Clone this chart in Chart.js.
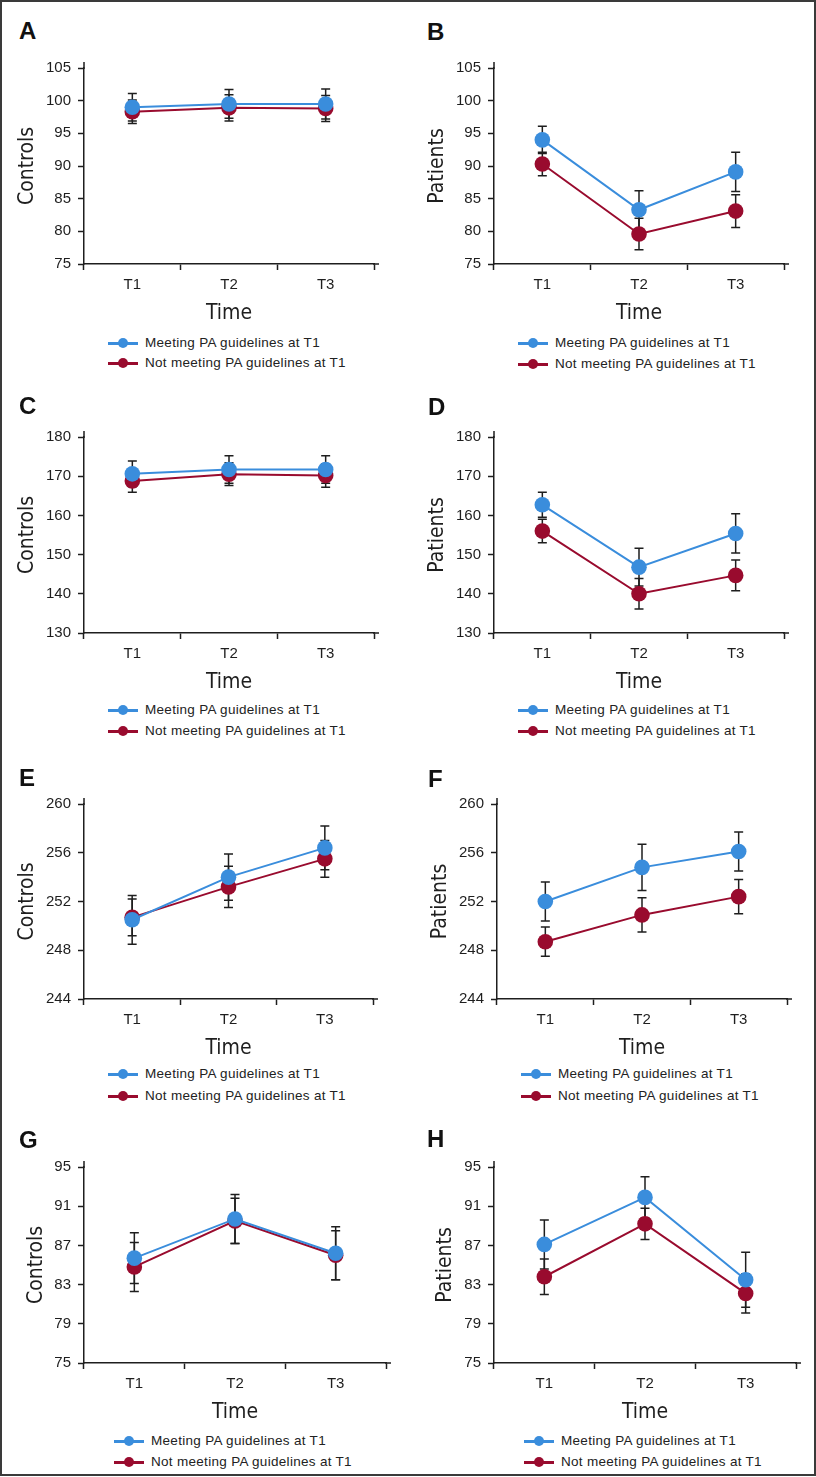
<!DOCTYPE html>
<html>
<head>
<meta charset="utf-8">
<script src="https://cdn.jsdelivr.net/npm/chart.js@4.4.1/dist/chart.umd.min.js"></script>
<style>
  html, body { margin: 0; padding: 0; background: #fff; }
  #fig { position: relative; width: 816px; height: 1477px; overflow: hidden; font-family: 'Liberation Sans', Arial, sans-serif; }
  #frame { position: absolute; left: 0; top: 0; width: 816px; height: 1476px; box-sizing: border-box; border: 2px solid #3a3a3a; pointer-events: none; }
  canvas { position: absolute; }
  .letter { position: absolute; font-weight: bold; font-size: 24px; line-height: 24px; color: #111; }
  .legend-row { position: absolute; height: 20px; line-height: 20px; white-space: nowrap; font-size: 13.5px; letter-spacing: 0.3px; color: #222; }
  .legend-row .line { position: absolute; left: 0; top: 9px; width: 30px; height: 2.5px; }
  .legend-row .dot { position: absolute; left: 10px; top: 5px; width: 10px; height: 10px; border-radius: 50%; }
  .legend-row .text { position: absolute; left: 37px; top: 0; }
</style>
</head>
<body>
<div id="fig"><div id="frame"></div></div>
<script>
// categories and series names
const timeLabels = ['T1', 'T2', 'T3'];
const seriesNames = ['Meeting PA guidelines at T1', 'Not meeting PA guidelines at T1'];
const panelLetters = ['A', 'B', 'C', 'D', 'E', 'F', 'G', 'H'];
const yTitles = ['Controls', 'Patients', 'Controls', 'Patients', 'Controls', 'Patients', 'Controls', 'Patients'];

// y axis ticks per panel
const yMin = [75, 75, 130, 130, 244, 244, 75, 75];
const yMax = [105, 105, 180, 180, 260, 260, 95, 95];
const yStep = [5, 5, 10, 10, 4, 4, 4, 4];

// means (meeting / not meeting) and error bar half-lengths, per panel
const meetA = [99.0, 99.5, 99.5];    const meetErrA = [2.1, 2.2, 2.3];
const notA = [98.3, 98.9, 98.8];     const notErrA = [1.8, 2.0, 2.0];
const meetB = [94.0, 83.3, 89.1];    const meetErrB = [2.1, 2.9, 3.0];
const notB = [90.3, 79.6, 83.1];     const notErrB = [1.8, 2.4, 2.5];
const meetC = [170.6, 171.7, 171.7]; const meetErrC = [3.3, 3.5, 3.5];
const notC = [168.8, 170.5, 170.2];  const notErrC = [2.9, 2.9, 3.0];
const meetD = [162.7, 146.8, 155.4]; const meetErrD = [3.2, 4.8, 5.0];
const notD = [156.0, 140.0, 144.7];  const notErrD = [3.0, 3.9, 3.9];
const meetE = [250.5, 254.0, 256.4]; const meetErrE = [2.0, 1.9, 1.8];
const notE = [250.7, 253.2, 255.5];  const notErrE = [1.5, 1.7, 1.5];
const meetF = [252.0, 254.8, 256.1]; const meetErrF = [1.6, 1.9, 1.6];
const notF = [248.7, 250.9, 252.4];  const notErrF = [1.2, 1.4, 1.4];
const meetG = [85.7, 89.7, 86.2];    const meetErrG = [2.6, 2.5, 2.7];
const notG = [84.8, 89.5, 86.0];     const notErrG = [2.5, 2.3, 2.5];
const meetH = [87.1, 91.9, 83.5];    const meetErrH = [2.5, 2.1, 2.8];
const notH = [83.8, 89.2, 82.1];     const notErrH = [1.8, 1.6, 2.0];

const meetValues = [meetA, meetB, meetC, meetD, meetE, meetF, meetG, meetH];
const meetErrors = [meetErrA, meetErrB, meetErrC, meetErrD, meetErrE, meetErrF, meetErrG, meetErrH];
const notValues = [notA, notB, notC, notD, notE, notF, notG, notH];
const notErrors = [notErrA, notErrB, notErrC, notErrD, notErrE, notErrF, notErrG, notErrH];

// page layout (pixels) for each panel
const layout = [
  { col: 0, plotL: 84,  plotR: 374, yTop: 68,   yBot: 264,  titleX: 26, letter: [19, 23],   legend: [108, 343, 363] },
  { col: 1, plotL: 494, plotR: 784, yTop: 68,   yBot: 264,  titleX: 28, letter: [427, 24],  legend: [518, 343, 364] },
  { col: 0, plotL: 84,  plotR: 374, yTop: 437,  yBot: 633,  titleX: 26, letter: [19, 398],  legend: [108, 710, 731] },
  { col: 1, plotL: 494, plotR: 784, yTop: 437,  yBot: 633,  titleX: 28, letter: [428, 399], legend: [518, 710, 731] },
  { col: 0, plotL: 84,  plotR: 373, yTop: 804,  yBot: 999,  titleX: 26, letter: [19, 770],  legend: [108, 1074, 1096] },
  { col: 1, plotL: 497, plotR: 787, yTop: 804,  yBot: 999,  titleX: 31, letter: [428, 771], legend: [521, 1074, 1096] },
  { col: 0, plotL: 84,  plotR: 386, yTop: 1167, yBot: 1363, titleX: 35, letter: [19, 1132], legend: [114, 1441, 1462] },
  { col: 1, plotL: 494, plotR: 796, yTop: 1167, yBot: 1363, titleX: 36, letter: [427, 1131], legend: [524, 1441, 1462] }
];

const BLUE = '#3a8ddc';
const RED = '#990b2e';
const INK = '#1e1e1e';
const TOP_PAD = 20;
const X_AXIS_H = 62;
const TITLE_SIZE = 21;
const TITLE_FONT = "'Liberation Sans Narrow', 'DejaVu Sans Condensed', 'Liberation Sans', sans-serif";

Chart.defaults.font.family = "'Liberation Sans', Arial, sans-serif";
Chart.defaults.color = INK;

// error bars drawn under the points
const errorBarPlugin = {
  id: 'errorBars',
  beforeDatasetsDraw(chart) {
    const ctx = chart.ctx;
    const yScale = chart.scales.y;
    ctx.save();
    ctx.strokeStyle = INK;
    ctx.lineWidth = 1.5;
    chart.data.datasets.forEach((ds, i) => {
      const meta = chart.getDatasetMeta(i);
      meta.data.forEach((pt, j) => {
        const v = ds.data[j], e = ds.errors[j];
        const top = yScale.getPixelForValue(v + e);
        const bot = yScale.getPixelForValue(v - e);
        ctx.beginPath();
        ctx.moveTo(pt.x, top); ctx.lineTo(pt.x, bot);
        ctx.moveTo(pt.x - 4.5, top); ctx.lineTo(pt.x + 4.5, top);
        ctx.moveTo(pt.x - 4.5, bot); ctx.lineTo(pt.x + 4.5, bot);
        ctx.stroke();
      });
    });
    ctx.restore();
  }
};

// axis lines run a little past the last tick
const axisExtendPlugin = {
  id: 'axisExtend',
  afterDraw(chart) {
    const { ctx, chartArea } = chart;
    ctx.save();
    ctx.strokeStyle = INK;
    ctx.lineWidth = 1.5;
    ctx.beginPath();
    ctx.moveTo(chartArea.left, chartArea.top + 1);
    ctx.lineTo(chartArea.left, chartArea.top - 6);
    ctx.moveTo(chartArea.right - 1, chartArea.bottom);
    ctx.lineTo(chartArea.right + 5, chartArea.bottom);
    ctx.stroke();
    ctx.restore();
  }
};

const fig = document.getElementById('fig');

layout.forEach((p, k) => {
  const left = p.col * 408;
  const top = p.yTop - TOP_PAD;
  const height = TOP_PAD + (p.yBot - p.yTop) + X_AXIS_H;

  const canvas = document.createElement('canvas');
  canvas.style.left = left + 'px';
  canvas.style.top = top + 'px';
  canvas.style.width = '408px';
  canvas.style.height = height + 'px';
  canvas.width = 408;
  canvas.height = height;
  fig.appendChild(canvas);

  const letter = document.createElement('div');
  letter.className = 'letter';
  letter.textContent = panelLetters[k];
  letter.style.left = p.letter[0] + 'px';
  letter.style.top = (p.letter[1] - 4) + 'px';
  fig.appendChild(letter);

  const datasets = [
    { label: seriesNames[0], data: meetValues[k], errors: meetErrors[k], color: BLUE },
    { label: seriesNames[1], data: notValues[k], errors: notErrors[k], color: RED }
  ].map(s => ({
    label: s.label,
    data: s.data,
    errors: s.errors,
    borderColor: s.color,
    backgroundColor: s.color,
    pointBackgroundColor: s.color,
    pointBorderColor: s.color,
    pointBorderWidth: 0,
    pointRadius: 7.8,
    borderWidth: 2,
    tension: 0
  }));

  new Chart(canvas, {
    type: 'line',
    data: { labels: timeLabels, datasets },
    options: {
      responsive: false,
      animation: false,
      events: [],
      layout: { padding: { left: 0, top: TOP_PAD, right: 408 - (p.plotR - left), bottom: 0 } },
      plugins: { legend: { display: false }, tooltip: { enabled: false } },
      scales: {
        x: {
          type: 'category',
          offset: true,
          grid: { display: true, offset: true, drawOnChartArea: false, drawTicks: true, tickLength: 6, tickColor: INK, tickWidth: 1.5 },
          border: { display: true, color: INK, width: 1.5 },
          ticks: { padding: 6, font: { size: 15 }, color: INK },
          title: { display: true, text: 'Time', font: { family: TITLE_FONT, size: TITLE_SIZE }, color: INK, padding: { top: 0, bottom: 0 } },
          afterFit: scale => { scale.height = X_AXIS_H; }
        },
        y: {
          min: yMin[k],
          max: yMax[k],
          grid: { display: true, drawOnChartArea: false, drawTicks: true, tickLength: 6, tickColor: INK, tickWidth: 1.5 },
          border: { display: true, color: INK, width: 1.5 },
          ticks: { stepSize: yStep[k], padding: 7, font: { size: 15 }, color: INK },
          title: { display: true, text: yTitles[k], font: { family: TITLE_FONT, size: TITLE_SIZE }, color: INK, padding: { top: p.titleX + 2 - TITLE_SIZE * 0.6, bottom: 0 } },
          afterFit: scale => { scale.width = p.plotL - left; }
        }
      }
    },
    plugins: [errorBarPlugin, axisExtendPlugin]
  });

  // legend built from the dataset labels
  datasets.forEach((ds, i) => {
    const row = document.createElement('div');
    row.className = 'legend-row';
    row.style.left = p.legend[0] + 'px';
    row.style.top = (p.legend[1 + i] - 10) + 'px';
    row.innerHTML = '<span class="line" style="background:' + ds.borderColor + '"></span>' +
      '<span class="dot" style="background:' + ds.borderColor + '"></span>' +
      '<span class="text">' + ds.label + '</span>';
    fig.appendChild(row);
  });
});
</script>
</body>
</html>
